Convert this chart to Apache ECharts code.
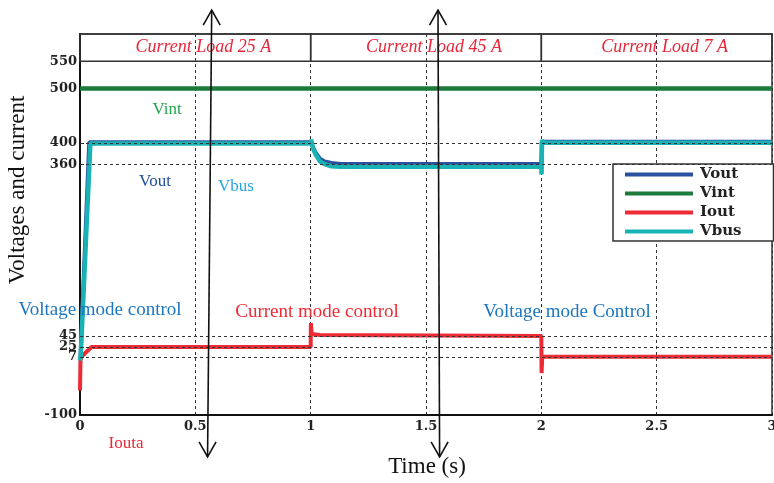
<!DOCTYPE html>
<html>
<head>
<meta charset="utf-8">
<script src="https://cdn.jsdelivr.net/npm/echarts@6/dist/echarts.min.js"></script>
<style>
  html, body { margin: 0; padding: 0; background: #fff; }
  #chart { width: 774px; height: 483px; }
</style>
</head>
<body>
<div id="chart"></div>
<script>
// Time axis (s) and the labelled levels on the vertical axis
const Y_TICKS = [-100, 7, 25, 45, 360, 400, 500, 550];
const GUIDE_LEVELS = [400, 360, 45, 25, 7];

// Load steps shown in the header band
const LOAD_STEPS = [
  { from: 0, to: 1, text: 'Current Load 25 A' },
  { from: 1, to: 2, text: 'Current Load 45 A' },
  { from: 2, to: 3, text: 'Current Load 7 A' }
];

// Waveforms as [time (s), value]
const VOUT = [
  [0, 0], [0.002, 5], [0.04, 401], [1.0, 401], [1.01, 392], [1.02, 383],
  [1.04, 371], [1.06, 366], [1.09, 363], [1.13, 361], [2.0, 361],
  [2.002, 402], [3.0, 402]
];
const VINT = [
  [0, 500], [2.0, 500], [2.002, 503], [2.005, 500], [3.0, 500]
];
const IOUT = [
  [0, -55], [0.002, 0], [0.008, 8], [0.05, 25], [1.0, 25], [1.001, 69],
  [1.004, 49], [1.04, 47], [1.045, 45], [2.0, 45], [2.001, -23],
  [2.004, 7], [3.0, 7]
];
const VBUS = [
  [0, 0], [0.003, 8], [0.045, 399], [1.0, 399], [1.002, 406], [1.01, 390],
  [1.02, 380], [1.04, 366], [1.06, 361], [1.09, 357], [1.13, 356],
  [2.0, 356], [2.001, 342], [2.003, 405], [2.01, 400], [3.0, 400]
];

// Double-headed marker arrows: [top point, bottom point] in [time, value]
const ARROWS = [
  [[0.571, 644], [0.553, -177]],
  [[1.552, 644], [1.559, -177]]
];

const SERIF = '"Liberation Serif", "DejaVu Serif", serif';
const BOLD_SERIF = '"DejaVu Serif", serif';

const chart = echarts.init(document.getElementById('chart'), null, { renderer: 'canvas' });

const option = {
  animation: false,
  backgroundColor: '#fff',
  grid: {
    left: 80, right: 2, top: 34, bottom: 68,
    outerBoundsMode: 'none', containLabel: false,
    show: true, borderColor: '#333', borderWidth: 1.5, backgroundColor: 'transparent'
  },
  legend: {
    orient: 'vertical',
    left: 613, top: 164,
    icon: 'rect',
    itemWidth: 68, itemHeight: 4,
    itemGap: 2,
    padding: [2, 32, 1, 12],
    backgroundColor: '#fff',
    borderColor: '#333', borderWidth: 1.5,
    textStyle: { fontFamily: BOLD_SERIF, fontWeight: 'bold', fontSize: 15, color: '#222', lineHeight: 17, padding: [0, 0, 0, 2] },
    data: ['Vout', 'Vint', 'Iout', 'Vbus']
  },
  xAxis: {
    type: 'value', min: 0, max: 3, interval: 0.5,
    axisLine: { show: true, onZero: false, lineStyle: { color: '#111', width: 2 } },
    axisTick: { show: false },
    axisLabel: { margin: 5, fontFamily: BOLD_SERIF, fontWeight: 'bold', fontSize: 13, color: '#222' },
    splitLine: { show: true, lineStyle: { color: '#333', width: 1, type: [3, 3] } }
  },
  yAxis: {
    type: 'value', min: -100, max: 600,
    axisLine: { show: true, onZero: false, lineStyle: { color: '#111', width: 2 } },
    axisTick: { show: true, inside: true, length: 4, customValues: Y_TICKS, lineStyle: { color: '#111' } },
    axisLabel: { margin: 3, customValues: Y_TICKS, fontFamily: BOLD_SERIF, fontWeight: 'bold', fontSize: 13, color: '#222' },
    splitLine: { show: false }
  },
  series: [
    {
      name: 'guides', type: 'line', data: [], silent: true, z: 1,
      markLine: {
        silent: true, symbol: 'none', label: { show: false },
        lineStyle: { color: '#333', width: 1, type: [3, 3] },
        data: GUIDE_LEVELS.map(v => ({ yAxis: v }))
      },
      markArea: {
        silent: true,
        itemStyle: { color: 'rgba(0,0,0,0)', borderColor: '#333', borderWidth: 1.5 },
        label: {
          show: true, position: 'inside', offset: [8, 0],
          fontFamily: SERIF, fontStyle: 'italic', fontSize: 18, color: '#e8283a'
        },
        data: LOAD_STEPS.map(s => [
          { xAxis: s.from, yAxis: 550, name: s.text },
          { xAxis: s.to, yAxis: 600 }
        ])
      }
    },
    { name: 'Vout', type: 'line', data: VOUT, showSymbol: false, symbol: 'none', color: '#2a50a0', lineStyle: { width: 4 }, z: 3 },
    { name: 'Vint', type: 'line', data: VINT, showSymbol: false, symbol: 'none', color: '#1b7a3c', lineStyle: { width: 4.5 }, z: 3 },
    { name: 'Iout', type: 'line', data: IOUT, showSymbol: false, symbol: 'none', color: '#ee2a35', lineStyle: { width: 4 }, z: 3 },
    { name: 'Vbus', type: 'line', data: VBUS, showSymbol: false, symbol: 'none', color: '#1ab3b5', lineStyle: { width: 4.5 }, z: 3 }
  ]
};

chart.setOption(option);

// Annotation text placed around the plot
function label(text, x, y, size, color, extra) {
  return Object.assign({
    type: 'text', x: x, y: y, z: 10,
    style: {
      text: text, fill: color, fontFamily: SERIF, fontSize: size,
      textAlign: 'center', textVerticalAlign: 'middle'
    }
  }, extra || {});
}

const graphics = [
  label('Vint', 167, 110, 17, '#23a44c'),
  label('Vout', 155, 182, 17, '#1e4f9b'),
  label('Vbus', 236, 187, 17, '#27a6de'),
  label('Voltage mode control', 100, 310, 19, '#1c76c0'),
  label('Current mode control', 317, 312, 19, '#ee2a35'),
  label('Voltage mode Control', 567, 312, 19, '#1c76c0'),
  label('Iouta', 126, 444, 17, '#ee2a35'),
  label('Time (s)', 427, 467, 23, '#111'),
  label('Voltages and current', 18, 190, 23, '#111', { rotation: Math.PI / 2 })
];

// Double-headed arrows drawn from data coordinates
ARROWS.forEach(pair => {
  const top = chart.convertToPixel({ gridIndex: 0 }, pair[0]);
  const bot = chart.convertToPixel({ gridIndex: 0 }, pair[1]);
  const stroke = { stroke: '#111', lineWidth: 1.6, fill: null };
  graphics.push({ type: 'line', z: 11, shape: { x1: top[0], y1: top[1], x2: bot[0], y2: bot[1] }, style: stroke });
  graphics.push({ type: 'polyline', z: 11, shape: { points: [[top[0] - 8.5, top[1] + 15], [top[0], top[1]], [top[0] + 8.5, top[1] + 15]] }, style: stroke });
  graphics.push({ type: 'polyline', z: 11, shape: { points: [[bot[0] - 8.5, bot[1] - 15], [bot[0], bot[1]], [bot[0] + 8.5, bot[1] - 15]] }, style: stroke });
});

chart.setOption({ graphic: graphics });
</script>
</body>
</html>
